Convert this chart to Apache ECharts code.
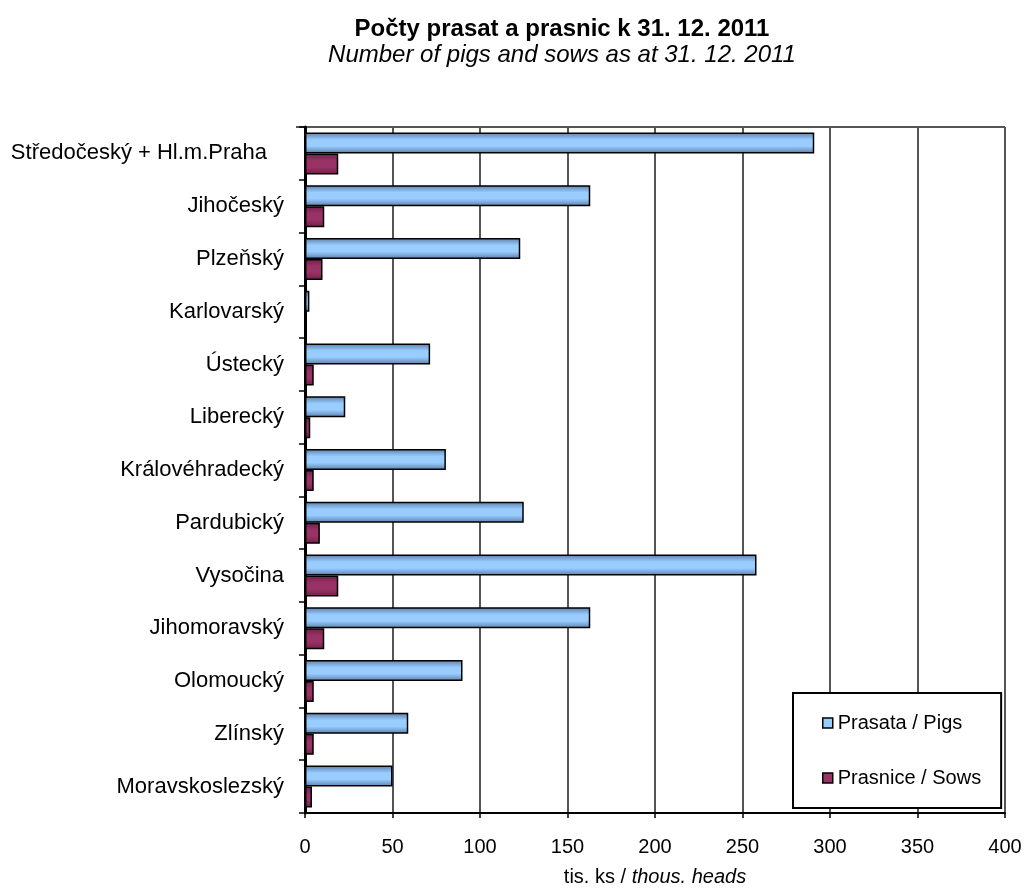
<!DOCTYPE html>
<html>
<head>
<meta charset="utf-8">
<script src="https://cdn.jsdelivr.net/npm/echarts@6/dist/echarts.min.js"></script>
<style>
  html, body { margin: 0; padding: 0; background: #fff; }
  #chart { width: 1026px; height: 892px; }
</style>
</head>
<body>
<div id="chart"></div>
<script>
var regions = [
  "Středočeský + Hl.m.Praha", "Jihočeský", "Plzeňský", "Karlovarský", "Ústecký",
  "Liberecký", "Královéhradecký", "Pardubický", "Vysočina", "Jihomoravský",
  "Olomoucký", "Zlínský", "Moravskoslezský"
];
var pigs = [291, 163, 123, 2.5, 71.5, 23, 80.5, 125, 258, 163, 90, 59, 50];
var sows = [19, 11, 10, 1, 5, 3, 5, 8.5, 19, 11, 5, 5, 4];
var xTicks = [0, 50, 100, 150, 200, 250, 300, 350, 400];

var font = "'Liberation Sans', Arial, sans-serif";

function barFill(edge, mid) {
  return new echarts.graphic.LinearGradient(0, 0, 0, 1, [
    { offset: 0, color: edge },
    { offset: 0.35, color: mid },
    { offset: 0.65, color: mid },
    { offset: 1, color: edge }
  ]);
}

var chart = echarts.init(document.getElementById("chart"));
var option = {
  backgroundColor: "#fff",
  animation: false,
  title: {
    text: "Počty prasat a prasnic k 31. 12. 2011",
    subtext: "Number of pigs and sows as at 31. 12. 2011",
    left: 557,
    textAlign: "center",
    top: 12,
    itemGap: 2,
    textStyle: { fontFamily: font, fontSize: 24, fontWeight: "bold", color: "#000" },
    subtextStyle: { fontFamily: font, fontSize: 24, fontStyle: "italic", color: "#000" }
  },
  legend: {
    orient: "vertical",
    left: 793,
    top: 693,
    padding: [20, 20, 20, 29],
    itemGap: 35,
    itemWidth: 10,
    itemHeight: 10,
    backgroundColor: "#fff",
    borderColor: "#000",
    borderWidth: 2,
    textStyle: { fontFamily: font, fontSize: 20, color: "#000" },
    data: [
      { name: "Prasata / Pigs", icon: "rect", itemStyle: { color: "#99ccff", borderColor: "#000", borderWidth: 1.5 } },
      { name: "Prasnice / Sows", icon: "rect", itemStyle: { color: "#993366", borderColor: "#000", borderWidth: 1.5 } }
    ]
  },
  grid: { left: 305, right: 21, top: 127, bottom: 79, outerBoundsMode: "none", containLabel: false },
  xAxis: {
    type: "value",
    min: xTicks[0],
    max: xTicks[xTicks.length - 1],
    interval: 50,
    name: "{a|tis. ks / }{b|thous. heads}",
    nameLocation: "middle",
    nameGap: 54,
    nameTextStyle: {
      rich: {
        a: { fontFamily: font, fontSize: 20, color: "#000" },
        b: { fontFamily: font, fontSize: 20, fontStyle: "italic", color: "#000" }
      }
    },
    axisLine: { show: true, lineStyle: { color: "#000", width: 2 } },
    axisTick: { show: true, length: 5, lineStyle: { color: "#000", width: 1.5 } },
    axisLabel: { fontFamily: font, fontSize: 20, color: "#000", margin: 24 },
    splitLine: { show: true, lineStyle: { color: "#555", width: 2 } }
  },
  yAxis: {
    type: "category",
    inverse: true,
    data: regions.map(function (r, i) {
      return i === 0 ? { value: r, textStyle: { padding: [0, 17, 0, 0] } } : r;
    }),
    axisLine: { show: true, lineStyle: { color: "#000", width: 3 } },
    axisTick: { show: true, length: 6, lineStyle: { color: "#000", width: 1.5 } },
    axisLabel: { fontFamily: font, fontSize: 22, color: "#000", margin: 21 }
  },
  series: [
    {
      name: "Prasata / Pigs",
      type: "bar",
      data: pigs,
      barWidth: 21,
      barGap: "0%",
      itemStyle: { color: barFill("#5a7ea8", "#99ccff"), borderColor: "#000", borderWidth: 1.5 }
    },
    {
      name: "Prasnice / Sows",
      type: "bar",
      data: sows,
      barWidth: 21,
      barGap: "0%",
      itemStyle: { color: barFill("#6e2048", "#993366"), borderColor: "#000", borderWidth: 1.5 }
    }
  ],
  graphic: [
    { type: "line", shape: { x1: 296, y1: 127, x2: 1005, y2: 127 }, style: { stroke: "#555", lineWidth: 2 } }
  ]
};
chart.setOption(option);
</script>
</body>
</html>
